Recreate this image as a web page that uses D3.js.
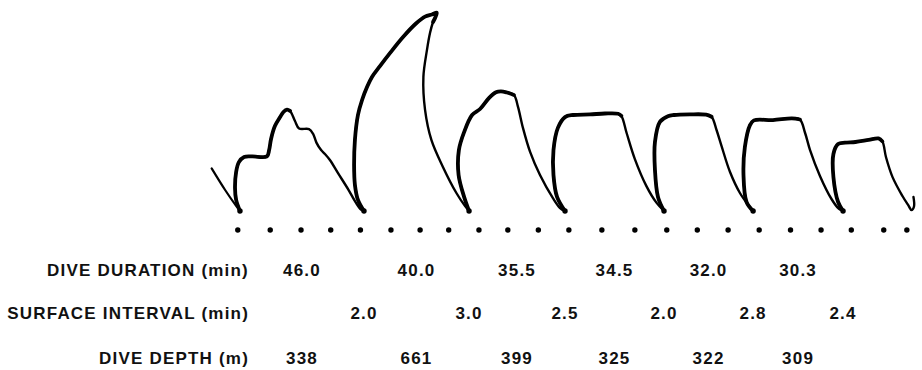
<!DOCTYPE html>
<html>
<head>
<meta charset="utf-8">
<script src="https://cdn.jsdelivr.net/npm/d3@7"></script>
<style>
  html, body { margin: 0; padding: 0; background: #fff; }
  svg { display: block; }
</style>
</head>
<body>
<svg id="chart" width="922" height="370"></svg>
<script>
// Depth trace from the recorder: [elapsed time (min), depth (m)]
const leadIn = [[0.6,142],[5.5,70],[9.5,17],[10.9,0]];
const dive1 = [[10.9,0],[9.5,37],[9.1,77],[9.5,130],[10.5,163],[12.4,180],[15.3,182],[20.7,182],[21.5,203],[22.2,240],[23.6,283],[25.5,313],[26.7,330],[28.0,338],[29.1,334],[30.9,300],[32.4,275],[36.0,273],[37.5,257],[38.7,228],[40.4,203],[41.8,190],[43.6,170],[46.5,127],[50.2,73],[53.1,27],[54.9,5],[56.0,0]];
const dive2 = [[56.0,0],[53.8,37],[52.7,87],[52.4,153],[52.7,237],[53.8,320],[55.3,370],[57.1,413],[58.9,447],[61.8,483],[65.5,527],[70.2,580],[74.9,625],[78.2,648],[80.7,655],[82.5,661],[81.1,630],[80.0,593],[78.9,537],[77.6,447],[78.2,337],[80.5,237],[84.7,147],[89.6,60],[92.7,17],[94.2,0]];
const dive3 = [[94.2,0],[92.4,47],[90.4,120],[90.5,203],[92.4,263],[95.3,320],[98.2,340],[101.5,377],[104.0,396],[105.8,399],[108.0,395],[110.5,387],[112.0,347],[113.8,277],[116.4,197],[120.0,120],[124.7,43],[127.3,10],[129.1,0]];
const dive4 = [[129.1,0],[126.2,47],[124.9,120],[124.9,203],[126.5,277],[129.1,313],[132.0,320],[138.2,322],[143.6,325],[148.4,324],[149.6,317],[151.5,260],[154.5,173],[158.7,83],[162.4,27],[165.1,0]];
const dive5 = [[165.1,0],[162.9,47],[161.8,137],[161.8,230],[163.6,297],[166.5,316],[168.7,320],[174.5,322],[180.4,321],[182.4,314],[184.2,270],[186.0,217],[189.1,130],[192.7,60],[196.0,17],[197.5,0]];
const dive6 = [[197.5,0],[195.1,30],[194.0,120],[194.5,213],[196.4,287],[197.8,302],[204.7,303],[211.6,309],[214.5,305],[216.4,260],[218.2,203],[221.8,117],[226.0,40],[228.7,7],[230.2,0]];
const dive7 = [[230.2,0],[228.4,30],[226.7,113],[226.7,190],[228.4,223],[230.9,228],[234.7,230],[239.5,237],[243.1,242],[244.5,232],[245.8,180],[248.2,113],[251.8,50],[254.0,18],[255.1,3],[256.0,15],[255.8,47]];

// Time marks along the bottom of the record (min)
const timeMarks = [10.1,21.9,33.1,43.9,54.7,65.8,76.4,86.8,97.8,108.3,119.4,130.5,142.5,154.5,166.1,177.2,188.4,199.7,211.1,222.2,233.2,245.0,253.4];

// Table rows
const rowTitles = ["DIVE DURATION (min)", "SURFACE INTERVAL (min)", "DIVE DEPTH (m)"];
const diveDuration = ["46.0","40.0","35.5","34.5","32.0","30.3"];
const surfaceInterval = ["2.0","3.0","2.5","2.0","2.8","2.4"];
const diveDepth = [338, 661, 399, 325, 322, 309];

const dives = [dive1, dive2, dive3, dive4, dive5, dive6, dive7];

const svg = d3.select("#chart");
const x = d3.scaleLinear().domain([0, 260]).range([210, 925]);
const y = d3.scaleLinear().domain([0, 700]).range([211, 1]);

const line = d3.line()
  .x(d => x(d[0]))
  .y(d => y(d[1]))
  .curve(d3.curveCatmullRom.alpha(0.5));

const trace = svg.append("g")
  .attr("fill", "none")
  .attr("stroke", "#000")
  .attr("stroke-linecap", "round")
  .attr("stroke-linejoin", "round");

trace.append("path").attr("d", line(leadIn)).attr("stroke-width", 2.2);

dives.forEach(dive => {
  // the pen runs heavier on the way down and along the bottom
  const maxD = d3.max(dive, d => d[1]);
  let lastHigh = 0;
  dive.forEach((d, i) => { if (d[1] >= 0.94 * maxD) lastHigh = i; });
  trace.append("path").attr("d", line(dive)).attr("stroke-width", 2.4);
  trace.append("path").attr("d", line(dive.slice(0, lastHigh + 1))).attr("stroke-width", 3.8);
});

// pen dwell at each surfacing
svg.append("g").selectAll("circle")
  .data(dives.map(d => d[0]))
  .join("circle")
  .attr("cx", d => x(d[0]))
  .attr("cy", d => y(d[1]))
  .attr("r", 2.7)
  .attr("fill", "#000");

// time marks
const markY = y(0) + 19;
svg.append("g").selectAll("circle")
  .data(timeMarks)
  .join("circle")
  .attr("cx", d => x(d))
  .attr("cy", markY)
  .attr("r", 2.7)
  .attr("fill", "#000");

// table under the record
const rowY = [276, 319, 364];
const table = svg.append("g")
  .attr("font-family", "'Liberation Sans', Arial, sans-serif")
  .attr("font-weight", "bold")
  .attr("font-size", 17)
  .attr("letter-spacing", 1.2)
  .attr("fill", "#111");

table.selectAll("text.title")
  .data(rowTitles)
  .join("text")
  .attr("class", "title")
  .attr("x", 249)
  .attr("y", (d, i) => rowY[i])
  .attr("text-anchor", "end")
  .text(d => d);

const mid = dive => (dive[0][0] + dive[dive.length - 1][0]) / 2;
const end = dive => dive[dive.length - 1][0];

table.selectAll("text.dur")
  .data(diveDuration)
  .join("text")
  .attr("class", "dur")
  .attr("x", (d, i) => x(mid(dives[i])))
  .attr("y", rowY[0])
  .attr("text-anchor", "middle")
  .text(d => d);

table.selectAll("text.surf")
  .data(surfaceInterval)
  .join("text")
  .attr("class", "surf")
  .attr("x", (d, i) => x(end(dives[i])))
  .attr("y", rowY[1])
  .attr("text-anchor", "middle")
  .text(d => d);

table.selectAll("text.depth")
  .data(diveDepth)
  .join("text")
  .attr("class", "depth")
  .attr("x", (d, i) => x(mid(dives[i])))
  .attr("y", rowY[2])
  .attr("text-anchor", "middle")
  .text(d => d);
</script>
</body>
</html>
